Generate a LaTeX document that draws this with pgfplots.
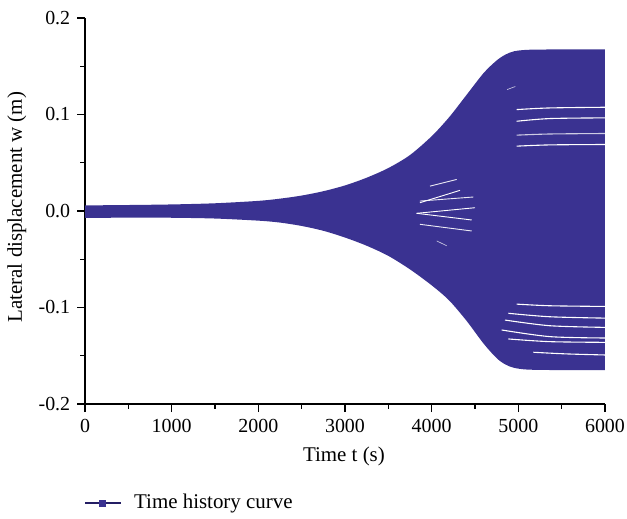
\documentclass[border=0pt]{standalone}
\usepackage{fontspec}
\setmainfont{Liberation Serif}
\usepackage{pgfplots}
\pgfplotsset{compat=1.18}
\usepgfplotslibrary{fillbetween}

\definecolor{bandblue}{RGB}{58,50,145}
\definecolor{legendnavy}{RGB}{36,30,100}

\begin{document}
\fontsize{20}{24}\selectfont
\begin{tikzpicture}
\begin{axis}[
  at={(0,0)}, anchor=south west,
  scale only axis,
  width=520bp, height=386bp,
  xmin=0, xmax=6000, ymin=-0.2, ymax=0.2,
  axis x line*=bottom, axis y line*=left,
  axis line style={line width=1.4bp, black, -},
  xtick={0,1000,2000,3000,4000,5000,6000},
  ytick={-0.2,-0.1,0,0.1,0.2},
  yticklabels={-0.2,-0.1,0.0,0.1,0.2},
  xticklabels={0,1000,2000,3000,4000,5000,6000},
  minor x tick num=1, minor y tick num=1,
  tick align=outside,
  major tick length=8bp, minor tick length=5bp,
  every tick/.style={black, line width=1.2bp},
  scaled y ticks=false,
  /pgf/number format/assume math mode=true,
  ticklabel style={font=\fontsize{20}{24}\selectfont},
  xlabel={Time t (s)},
  ylabel={Lateral displacement w (m)},
  label style={font=\fontsize{21}{25}\selectfont},
  xlabel style={at={(axis description cs:0.498,-0.137)}, anchor=center},
  ylabel style={at={(axis description cs:-0.131,0.51)}, anchor=center},
  legend style={at={(axis description cs:-0.002,-0.257)}, anchor=west,
    draw=none, fill=none, inner sep=0pt, font=\fontsize{21}{25}\selectfont,
    nodes={inner sep=0pt, outer sep=0pt},
    /tikz/every odd column/.append style={column sep=12bp}},
  legend image code/.code={
    \draw[legendnavy, line width=2bp] (0bp,0bp) -- (36bp,0bp);
    \fill[bandblue] (14.5bp,-3bp) rectangle (20.5bp,3bp);
  },
  clip=true,
]

% upper and lower envelopes of the oscillating response
\addplot[name path=upper, draw=none, smooth, forget plot] coordinates {
  (0,0.0058) (500,0.0062) (1000,0.0068) (1500,0.0080) (2000,0.0105)
  (2250,0.0128) (2500,0.0160) (2750,0.0205) (3000,0.0265) (3250,0.0345)
  (3500,0.0445) (3750,0.0580) (4000,0.0775) (4200,0.0970) (4400,0.1200)
  (4600,0.1430) (4750,0.1560) (4850,0.1620) (4950,0.1655) (5100,0.1670)
  (5400,0.1674) (6000,0.1675)
};
\addplot[name path=lower, draw=none, smooth, forget plot] coordinates {
  (0,-0.0072) (500,-0.0069) (1000,-0.0070) (1500,-0.0078) (2000,-0.0100)
  (2250,-0.0120) (2500,-0.0155) (2750,-0.0205) (3000,-0.0275) (3250,-0.0360)
  (3500,-0.0465) (3750,-0.0605) (4000,-0.0770) (4200,-0.0925) (4400,-0.1135)
  (4600,-0.1375) (4750,-0.1525) (4850,-0.1590) (4950,-0.1625) (5100,-0.1643)
  (5400,-0.1648) (6000,-0.1650)
};
\addplot[bandblue, forget plot] fill between[of=upper and lower];

% gaps between neighbouring response traces
\pgfplotsset{gap/.style={white, line width=1.1bp, forget plot}}
\addplot[gap, smooth] coordinates {(4981,0.1051) (5365,0.1068) (6000,0.1075)};
\addplot[gap, smooth] coordinates {(4981,0.0930) (5365,0.0958) (6000,0.0965)};
\addplot[gap, smooth, opacity=0.75] coordinates {(4981,0.0786) (5365,0.0798) (6000,0.0803)};
\addplot[gap, smooth] coordinates {(4981,0.0672) (5365,0.0685) (6000,0.0689)};
\addplot[gap, line width=0.7bp, opacity=0.7] coordinates {(4870,0.1258) (4965,0.1290)};

\addplot[gap, smooth] coordinates {(4981,-0.0965) (5365,-0.0982) (6000,-0.0989)};
\addplot[gap, smooth] coordinates {(4885,-0.1060) (5365,-0.1096) (6000,-0.1110)};
\addplot[gap, smooth] coordinates {(4846,-0.1130) (5365,-0.1189) (6000,-0.1206)};
\addplot[gap, smooth] coordinates {(4808,-0.1233) (5365,-0.1302) (6000,-0.1316)};
\addplot[gap, smooth] coordinates {(4885,-0.1326) (5365,-0.1354) (6000,-0.1361)};
\addplot[gap, smooth] coordinates {(5173,-0.1464) (5558,-0.1481) (6000,-0.1492)};

\addplot[gap, line width=0.9bp, opacity=0.9] coordinates {(3981,0.0258) (4289,0.0327)};
\addplot[gap, line width=0.9bp] coordinates {(3865,0.0086) (4327,0.0214)};
\addplot[gap, line width=0.9bp, opacity=0.9] coordinates {(3865,0.0103) (4481,0.0145)};
\addplot[gap, line width=0.9bp] coordinates {(3827,-0.0024) (4500,0.0034)};
\addplot[gap, line width=0.9bp] coordinates {(3827,-0.0024) (4462,-0.0093)};
\addplot[gap, line width=0.9bp, opacity=0.9] coordinates {(3865,-0.0138) (4462,-0.0207)};
\addplot[gap, line width=0.7bp, opacity=0.7] coordinates {(4058,-0.0310) (4173,-0.0360)};

\addlegendimage{legendnavy}
\addlegendentry{Time history curve}
\end{axis}
\pgfresetboundingbox
\path[use as bounding box] (-85bp,-115bp) rectangle (542bp,404bp);
\end{tikzpicture}
\end{document}
